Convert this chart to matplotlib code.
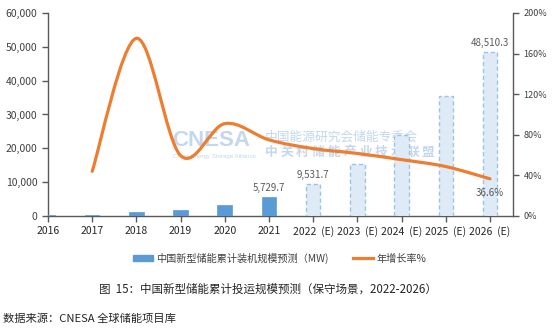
import numpy as np
import matplotlib
matplotlib.use("Agg")
import matplotlib.pyplot as plt
from matplotlib.patches import Patch
from matplotlib.lines import Line2D
from matplotlib.path import Path
from matplotlib.patches import PathPatch

plt.rcParams['font.family'] = ['Noto Sans CJK SC', 'DejaVu Sans']

categories = ["2016", "2017", "2018", "2019", "2020", "2021",
              "2022  (E)", "2023  (E)", "2024  (E)", "2025  (E)", "2026  (E)"]
capacity_mw = [270, 390, 1073, 1709, 3269, 5729.7,
               9531.7, 15400, 23900, 35500, 48510.3]
is_forecast = [False] * 6 + [True] * 5
growth_pct = [None, 44, 175, 59.5, 91, 75, 66.4, 61.6, 55.5, 48.7, 36.6]
bar_labels = {5: "5,729.7", 6: "9,531.7", 10: "48,510.3"}

BLUE = "#5B9BD5"
LIGHT_FILL = "#DEEBF7"
LIGHT_EDGE = "#9DC3E6"
ORANGE = "#ED7D31"
GREY = "#595959"
WM = "#C3D8EE"

fig = plt.figure(figsize=(5.54, 3.28), dpi=100)
ax = fig.add_axes([0.0866, 0.3415, 0.8394, 0.619])
ax2 = ax.twinx()

x = np.arange(len(categories))
w = 0.33
for xi, v, f in zip(x, capacity_mw, is_forecast):
    if f:
        ax.bar(xi, v, width=w, color=LIGHT_FILL, edgecolor=LIGHT_EDGE,
               linestyle=(0, (3, 2)), linewidth=1.0, zorder=3)
    else:
        ax.bar(xi, v, width=w, color=BLUE, edgecolor=BLUE, linewidth=0.5, zorder=3)

for i, txt in bar_labels.items():
    ax.text(x[i], capacity_mw[i] + 1200, txt, ha="center", va="bottom",
            fontsize=7, color=GREY, zorder=6)

ax.set_xlim(0, 10.52)
ax.set_ylim(0, 60000)
ax.set_yticks(np.arange(0, 60001, 10000))
ax.set_yticklabels([f"{v:,}" for v in range(0, 60001, 10000)])
ax.set_xticks(x)
ax.set_xticklabels(categories)

# smoothed growth line (Excel-style Catmull-Rom smoothing)
gx = np.array([xi for xi, g in zip(x, growth_pct) if g is not None], dtype=float)
gy = np.array([g for g in growth_pct if g is not None], dtype=float)
sx, sy = 44.2, 203 / 200.0
P = np.column_stack([gx * sx, gy * sy])
verts = [P[0]]
codes = [Path.MOVETO]
n = len(P)
for i in range(n - 1):
    p0 = P[i - 1] if i > 0 else P[i]
    p1 = P[i]
    p2 = P[i + 1]
    p3 = P[i + 2] if i + 2 < n else P[i + 1]
    c1 = p1 + (p2 - p0) / 6.0
    c2 = p2 - (p3 - p1) / 6.0
    verts += [c1, c2, p2]
    codes += [Path.CURVE4] * 3
verts = np.array(verts)
verts[:, 0] /= sx
verts[:, 1] /= sy
ax2.add_patch(PathPatch(Path(verts, codes), facecolor="none", edgecolor=ORANGE,
                        linewidth=2.3, capstyle="round", zorder=5))
ax2.set_ylim(0, 200)
ax2.set_yticks(np.arange(0, 201, 40))
ax2.set_yticklabels([f"{v}%" for v in range(0, 201, 40)])
ax2.text(gx[-1], gy[-1] - 9, f"{gy[-1]:.1f}%", ha="center", va="top",
         fontsize=7, color=GREY, zorder=6)

# watermark
ax.text(0.268, 0.374, "CNESA", transform=ax.transAxes, fontsize=16,
        fontweight="bold", color=WM, ha="left", va="center",
        family=["Liberation Sans"], zorder=1)
ax.text(0.268, 0.293, "China Energy Storage Alliance", transform=ax.transAxes,
        fontsize=4.4, color=WM, ha="left", va="center",
        family=["Liberation Sans"], zorder=1)
ax.text(0.466, 0.389, "中国能源研究会储能专委会", transform=ax.transAxes, fontsize=9.2,
        color=WM, ha="left", va="center", zorder=1)
line2 = "中关村储能产业技术联盟"
for k, ch in enumerate(line2):
    ax.text(0.466 + k * 0.0338, 0.313, ch, transform=ax.transAxes, fontsize=9.2,
            fontweight="bold", color=WM, ha="left", va="center", zorder=1)

for a in (ax, ax2):
    a.spines["top"].set_visible(False)
    for s in ("left", "right", "bottom"):
        a.spines[s].set_color(GREY)
        a.spines[s].set_linewidth(1.0)
ax.spines["right"].set_visible(False)
ax2.spines["left"].set_visible(False)
ax2.spines["bottom"].set_visible(False)

ax.tick_params(axis="y", labelsize=7.5, colors=GREY, length=4, width=1, direction="out",
               labelcolor="#404040")
ax.tick_params(axis="x", labelsize=7.5, colors=GREY, length=4, width=1, direction="out",
               labelcolor="#262626", pad=3)
ax2.tick_params(axis="y", labelsize=6.5, colors=GREY, length=4, width=1, direction="out",
                labelcolor="#404040")

handles = [Patch(facecolor=BLUE, edgecolor=BLUE),
           Line2D([0], [0], color=ORANGE, linewidth=2.3)]
labels = ["中国新型储能累计装机规模预测（MW)", "年增长率%"]
fig.legend(handles, labels, loc="center", bbox_to_anchor=(0.505, 0.213), ncol=2,
           frameon=False, fontsize=7.3, handlelength=2.0, handleheight=0.45,
           handletextpad=0.3, columnspacing=2.4, labelcolor="#404040",
           borderaxespad=0, borderpad=0)

fig.text(0.484, 0.118, "图  15：中国新型储能累计投运规模预测（保守场景，2022-2026）",
         ha="center", va="center", fontsize=8.3, color="#262626")
fig.text(0.005, 0.027, "数据来源：CNESA 全球储能项目库", ha="left", va="center",
         fontsize=8.1, color="#262626")

fig.savefig("out.png", dpi=100)
